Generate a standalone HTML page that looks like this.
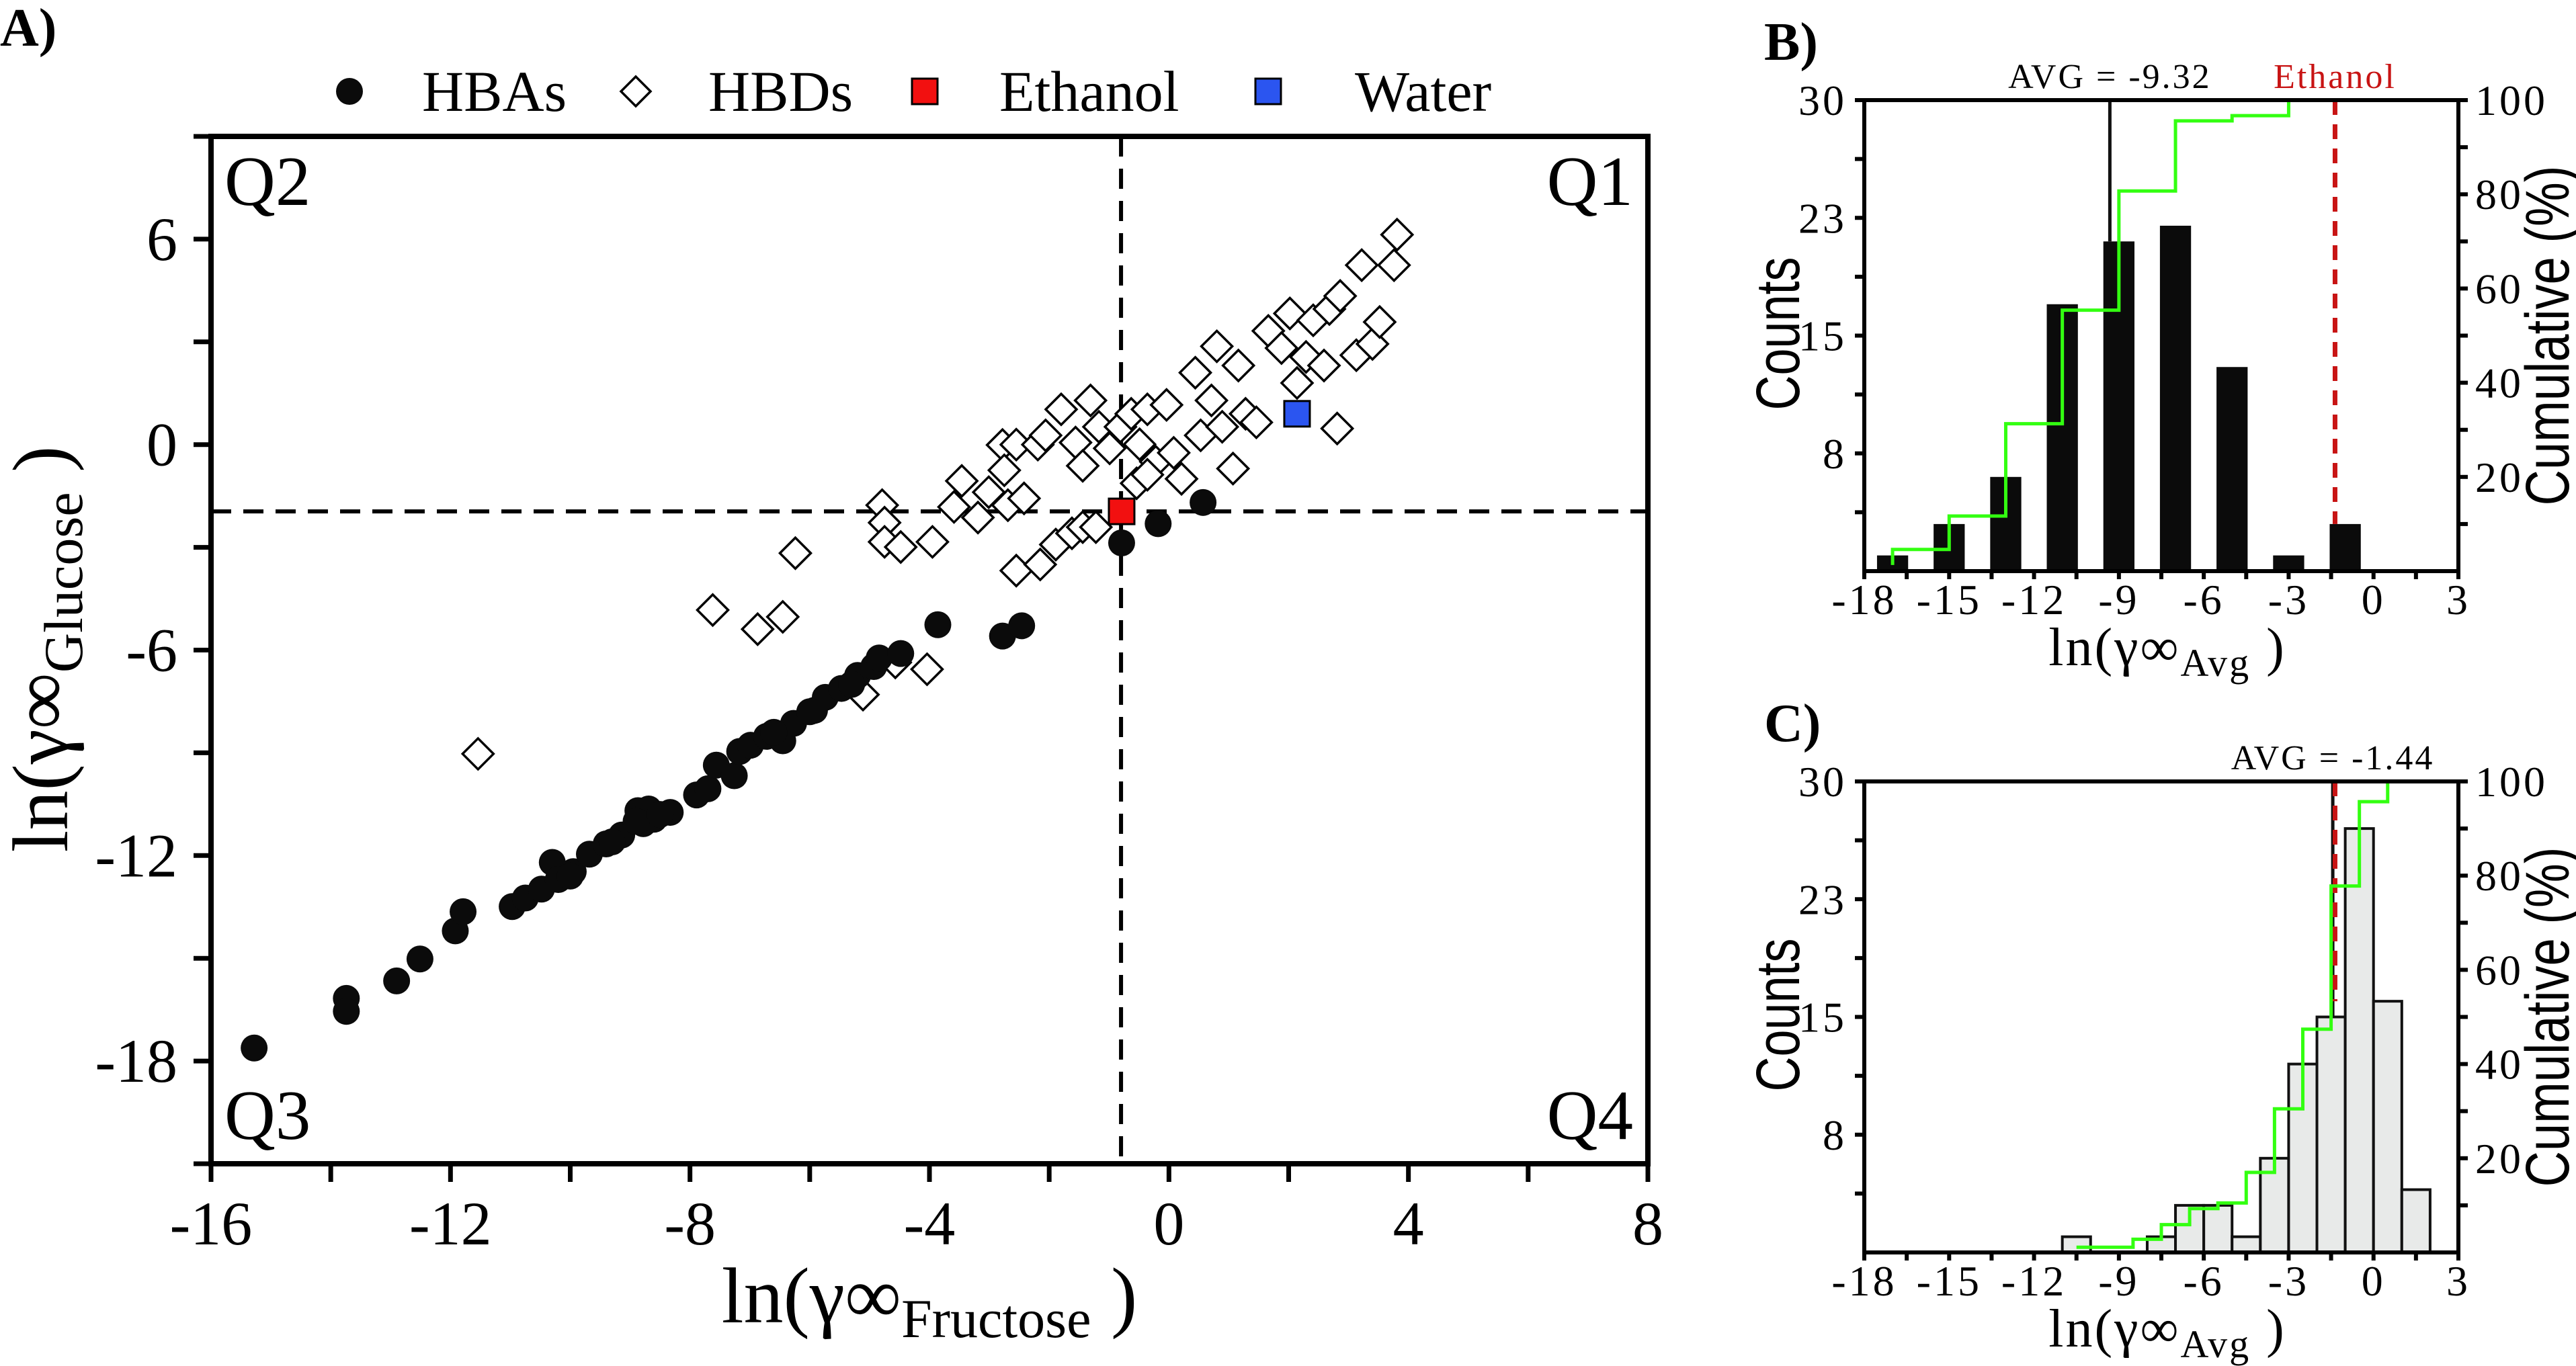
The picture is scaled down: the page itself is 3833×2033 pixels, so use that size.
<!DOCTYPE html>
<html><head><meta charset="utf-8"><style>
html,body{margin:0;padding:0;background:#fff}
svg{display:block}
text{font-family:"Liberation Serif",serif;fill:#000}
.nar{font-family:"Liberation Sans Narrow","Liberation Sans",sans-serif}
</style></head><body>
<svg id="fig" width="3833" height="2033" viewBox="0 0 3833 2033" xmlns="http://www.w3.org/2000/svg">
<g id="A"></g>
<g id="B"></g>
<g id="C"></g>
</svg>
<script>
// ---------- Panel A data ----------
const hbaX=[-15.28,-13.74,-13.74,-12.9,-12.51,-11.92,-11.79,-10.97,-10.75,-10.48,-10.3,-10.2,-9.95,-9.68,-9.4,-9.14,-8.87,-8.78,-8.6,-8.33,-8.69,-7.89,-7.7,-7.56,-7.26,-7.17,-6.99,-6.72,-6.45,-6.27,-5.92,-5.74,-5.47,-5.2,-4.93,-4.84,-4.48,-3.86,-2.78,-2.46,-0.79,-0.18,0.57,-10.0,-9.3,-8.9,-8.5,-6.6,-6.0,-5.3];
const hbaY=[-17.62,-16.17,-16.55,-15.66,-15.02,-14.2,-13.64,-13.49,-13.24,-12.98,-12.2,-12.7,-12.47,-11.96,-11.66,-11.4,-10.69,-11.07,-10.94,-10.74,-10.64,-10.23,-10.05,-9.36,-9.67,-8.96,-8.78,-8.52,-8.65,-8.14,-7.76,-7.38,-7.12,-6.74,-6.48,-6.23,-6.1,-5.26,-5.59,-5.29,-2.87,-2.31,-1.69,-12.6,-11.6,-11.0,-10.8,-8.4,-7.8,-7.0];
const hbdX=[-11.54,-7.62,-6.87,-6.45,-6.24,-5.11,-4.57,-4.04,-4.79,-4.75,-4.75,-4.48,-3.95,-3.59,-3.46,-3.19,-3.01,-2.78,-2.75,-2.69,-2.55,-2.42,-2.19,-2.06,-1.8,-1.56,-1.44,-1.31,-1.17,-0.99,-0.81,-0.63,-0.49,-0.36,-0.22,-0.04,0.08,0.21,0.44,0.53,0.71,0.8,0.89,1.07,1.16,1.28,1.46,1.66,1.88,2.02,2.14,2.29,2.41,2.59,2.68,2.81,2.86,3.13,3.22,3.4,3.52,3.76,3.81,-2.55,-2.15,-1.89,-1.62,-1.44,-1.22,-0.54,-0.36];
const hbdY=[-9.03,-4.83,-5.39,-5.03,-3.17,-7.3,-6.36,-6.56,-1.77,-2.28,-2.84,-2.99,-2.84,-1.82,-1.06,-2.13,-1.39,-0.01,-0.75,-1.77,0.0,-1.57,0.0,0.27,1.03,0.06,-0.62,1.29,0.52,-0.11,0.52,0.9,0.01,1.03,-0.5,1.16,-0.24,-1.0,2.1,0.27,1.29,2.87,0.52,-0.7,2.31,0.9,0.65,3.32,2.82,3.83,1.8,2.56,3.63,2.31,3.96,0.47,4.34,2.61,5.24,2.94,3.58,5.24,6.13,-3.68,-3.5,-2.92,-2.59,-2.41,-2.41,-1.13,-0.88];
const ethanolPt=[-0.79,-1.95];
const waterPt=[2.14,0.9];
const quadX=-0.8, quadY=-1.95;
const aXTicks=[-16,-12,-8,-4,0,4,8];
const aYTicks=[-18,-12,-6,0,6];

// ---------- Panel B data ----------
const bCenters=[-17,-15,-13,-11,-9,-7,-5,-3,-1];
const bCounts=[1,3,6,17,21,22,13,1,3];
const bCumX=[-17,-15,-13,-11,-9,-7,-5,-3];
const bCumY=[4.6,11.7,31.3,55.4,80.7,95.6,96.7,100];
const bCumStart=1.3;
const bAvg=-9.32, bEthanol=-1.36;

// ---------- Panel C data ----------
const cEdges=[-11,-10,-9,-8,-7,-6,-5,-4,-3,-2,-1,0,1,2];
const cCounts=[1,0,0,1,3,3,1,6,12,15,27,16,4];
const cCumX=[-10.5,-8.5,-7.5,-6.5,-5.5,-4.5,-3.5,-2.5,-1.5,-0.5,0.5];
const cCumY=[1.1,2.8,5.9,9.3,10.5,17,30.5,47.4,77.8,95.7,100];
const cCumStart=1.1;
const cAvg=-1.44, cEthanol=-1.36;

const histXTicks=[-18,-15,-12,-9,-6,-3,0,3];
const histYTicks=[7.5,15,22.5,30];
const histYLabels=["8","15","23","30"];
const cumTicks=[20,40,60,80,100];

const NS="http://www.w3.org/2000/svg";
function mk(parent,tag,attrs,txt){const e=document.createElementNS(NS,tag);for(const k in attrs)e.setAttribute(k,attrs[k]);if(txt!==undefined)e.textContent=txt;parent.appendChild(e);return e;}

// ===== Panel A =====
(function(){
const g=document.getElementById('A');
const L=314,R=2452,T=203,B=1732,xmin=-16,xmax=8,ymin=-21,ymax=9;
const sx=v=>L+(v-xmin)/(xmax-xmin)*(R-L);
const sy=v=>B-(v-ymin)/(ymax-ymin)*(B-T);
let e=mk(g,'line',{x1:sx(quadX),x2:sx(quadX),y1:T,y2:B,stroke:'#000','stroke-width':6,'stroke-dasharray':'30 18'});

e=mk(g,'line',{x1:L,x2:R,y1:sy(quadY),y2:sy(quadY),stroke:'#000','stroke-width':6,'stroke-dasharray':'30 18'});

for(let i=0;i<hbdX.length;i++){const cx=sx(hbdX[i]),cy=sy(hbdY[i]),r=23;
 e=mk(g,'polygon',{points:`${cx},${cy-r} ${cx+r},${cy} ${cx},${cy+r} ${cx-r},${cy}`,fill:'#fff',stroke:'#000','stroke-width':3.5});
 }
for(let i=0;i<hbaX.length;i++){
 e=mk(g,'circle',{cx:sx(hbaX[i]),cy:sy(hbaY[i]),r:20,fill:'#0b0b0b'});
 }
e=mk(g,'rect',{x:sx(ethanolPt[0])-19,y:sy(ethanolPt[1])-19,width:38,height:38,fill:'#f21010',stroke:'#000','stroke-width':3});

e=mk(g,'rect',{x:sx(waterPt[0])-19,y:sy(waterPt[1])-19,width:38,height:38,fill:'#2b55f0',stroke:'#000','stroke-width':3});

e=mk(g,'rect',{x:L,y:T,width:R-L,height:B-T,fill:'none',stroke:'#000','stroke-width':8});

for(let v=xmin;v<=xmax;v+=2){
 e=mk(g,'line',{x1:sx(v),x2:sx(v),y1:B,y2:B+27,stroke:'#000','stroke-width':7});
 }
aXTicks.forEach(v=>{e=mk(g,'text',{x:sx(v),y:1852,'font-size':92,'text-anchor':'middle'},String(v));
 });
for(let v=ymin;v<=ymax;v+=3){
 e=mk(g,'line',{x1:L-26,x2:L,y1:sy(v),y2:sy(v),stroke:'#000','stroke-width':7});
 }
aYTicks.forEach(v=>{e=mk(g,'text',{x:264,y:sy(v)+31,'font-size':92,'text-anchor':'end'},String(v));
 });
[['Q2',334,305,'start'],['Q1',2430,305,'end'],['Q3',334,1695,'start'],['Q4',2430,1695,'end']].forEach(q=>{
 e=mk(g,'text',{x:q[1],y:q[2],'font-size':105,'text-anchor':q[3]},q[0]);
 });
e=mk(g,'text',{x:1383,y:1968,'font-size':118,'text-anchor':'middle'});
e.innerHTML='ln(γ∞<tspan font-size="82" dy="22">Fructose</tspan><tspan dy="-22"> )</tspan>';

e=mk(g,'text',{x:0,y:0,'font-size':118,'text-anchor':'middle',transform:'translate(100,966) rotate(-90)'});
e.innerHTML='ln(γ∞<tspan font-size="82" dy="22">Glucose</tspan><tspan dy="-22"> )</tspan>';

const lg=mk(g,'g',{});
e=mk(lg,'circle',{cx:520,cy:136,r:20,fill:'#0b0b0b'});
e=mk(lg,'text',{x:628,y:165,'font-size':86},'HBAs');
e=mk(lg,'polygon',{points:'946,114 968,136 946,158 924,136',fill:'#fff',stroke:'#000','stroke-width':3.5});
e=mk(lg,'text',{x:1054,y:165,'font-size':86},'HBDs');
e=mk(lg,'rect',{x:1357,y:117,width:38,height:38,fill:'#f21010',stroke:'#000','stroke-width':3});
e=mk(lg,'text',{x:1487,y:165,'font-size':86},'Ethanol');
e=mk(lg,'rect',{x:1868,y:117,width:38,height:38,fill:'#2b55f0',stroke:'#000','stroke-width':3});
e=mk(lg,'text',{x:2016,y:165,'font-size':86},'Water');
e=mk(g,'text',{x:0,y:68,'font-size':80,'font-weight':'bold'},'A)');
})();

// ===== Histogram panels =====
function hist(gid,T,B,opts){
const g=document.getElementById(gid);
const L=2774,R=3658,xmin=-18,xmax=3;
const sx=v=>L+(v-xmin)/(xmax-xmin)*(R-L);
const sy=v=>B-v/30*(B-T);
const sp=v=>B-v/100*(B-T);
let e;
opts.bars(g,sx,sy);
e=mk(g,'line',{x1:sx(opts.avg),x2:sx(opts.avg),y1:T,y2:sy(opts.avgTo),stroke:'#111','stroke-width':5});

e=mk(g,'line',{x1:sx(opts.eth),x2:sx(opts.eth),y1:T,y2:sy(opts.ethTo),stroke:'#c81414','stroke-width':7,'stroke-dasharray':'22 14'});

let d=`M${sx(opts.cx[0])},${sp(opts.cs)}`;
for(let i=0;i<opts.cx.length;i++){d+=` L${sx(opts.cx[i])},${sp(i?opts.cy[i-1]:opts.cs)} L${sx(opts.cx[i])},${sp(opts.cy[i])}`;}
e=mk(g,'path',{d:d,fill:'none',stroke:'#33ff11','stroke-width':5});

e=mk(g,'path',{d:`M${L},${T} L${L},${B} L${R},${B} L${R},${T} Z`,fill:'none',stroke:'#000','stroke-width':6});

for(let v=xmin;v<=xmax+0.01;v+=1.5){e=mk(g,'line',{x1:sx(v),x2:sx(v),y1:B,y2:B+12,stroke:'#000','stroke-width':6});
 }
histXTicks.forEach(v=>{e=mk(g,'text',{x:sx(v),y:B+64,'font-size':64,'text-anchor':'middle','letter-spacing':4},String(v));
 });
for(let v=3.75;v<=30;v+=3.75){e=mk(g,'line',{x1:L-14,x2:L,y1:sy(v),y2:sy(v),stroke:'#000','stroke-width':6});
 }
histYTicks.forEach((v,i)=>{e=mk(g,'text',{x:2748,y:sy(v)+22,'font-size':64,'text-anchor':'end','letter-spacing':4},histYLabels[i]);
 });
for(let v=10;v<=100;v+=10){e=mk(g,'line',{x1:R,x2:R+14,y1:sp(v),y2:sp(v),stroke:'#000','stroke-width':6});
 }
cumTicks.forEach(v=>{e=mk(g,'text',{x:3683,y:sp(v)+22,'font-size':64,'letter-spacing':4},String(v));
 });
e=mk(g,'text',{x:3225,y:B+140,'font-size':80,'text-anchor':'middle','letter-spacing':3});
e.innerHTML='ln(γ∞<tspan font-size="58" dy="16">Avg</tspan><tspan dy="-16"> )</tspan>';

e=mk(g,'text',{x:0,y:0,'font-size':92,'text-anchor':'middle','class':'nar',textLength:228,lengthAdjust:'spacingAndGlyphs',transform:`translate(2677,${(T+B)/2-3}) rotate(-90)`},'Counts');

e=mk(g,'text',{x:0,y:0,'font-size':92,'text-anchor':'middle','class':'nar',textLength:506,lengthAdjust:'spacingAndGlyphs',transform:`translate(3822,${(T+B)/2}) rotate(-90)`},'Cumulative (%)');

e=mk(g,'text',{x:sx(opts.avg),y:T-18,'font-size':52,'text-anchor':'middle','letter-spacing':3},opts.avgLabel);

if(opts.ethLabel){e=mk(g,'text',{x:sx(opts.eth),y:T-18,'font-size':52,'text-anchor':'middle','letter-spacing':3,fill:'#c81414',style:'fill:#c81414'},'Ethanol');
 }
e=mk(g,'text',{x:2625,y:T-60,'font-size':80,'font-weight':'bold'},opts.panel);

}
hist('B',149,850,{avg:bAvg,avgTo:21,eth:bEthanol,ethTo:3,cx:bCumX,cy:bCumY,cs:bCumStart,avgLabel:'AVG = -9.32',ethLabel:true,panel:'B)',
 bars:(g,sx,sy)=>{for(let i=0;i<bCenters.length;i++){const e=mk(g,'rect',{x:sx(bCenters[i]-0.55),y:sy(bCounts[i]),width:sx(1.1)-sx(0),height:sy(0)-sy(bCounts[i]),fill:'#0b0b0b'});
  }}});
hist('C',1163,1864,{avg:cAvg,avgTo:15,eth:cEthanol,ethTo:16,cx:cCumX,cy:cCumY,cs:cCumStart,avgLabel:'AVG = -1.44',ethLabel:false,panel:'C)',
 bars:(g,sx,sy)=>{for(let i=0;i<cCounts.length;i++){if(!cCounts[i])continue;const e=mk(g,'rect',{x:sx(cEdges[i]),y:sy(cCounts[i]),width:sx(cEdges[i+1])-sx(cEdges[i]),height:sy(0)-sy(cCounts[i]),fill:'#e8eae9',stroke:'#111','stroke-width':4});
  }}});
</script>
</body></html>
